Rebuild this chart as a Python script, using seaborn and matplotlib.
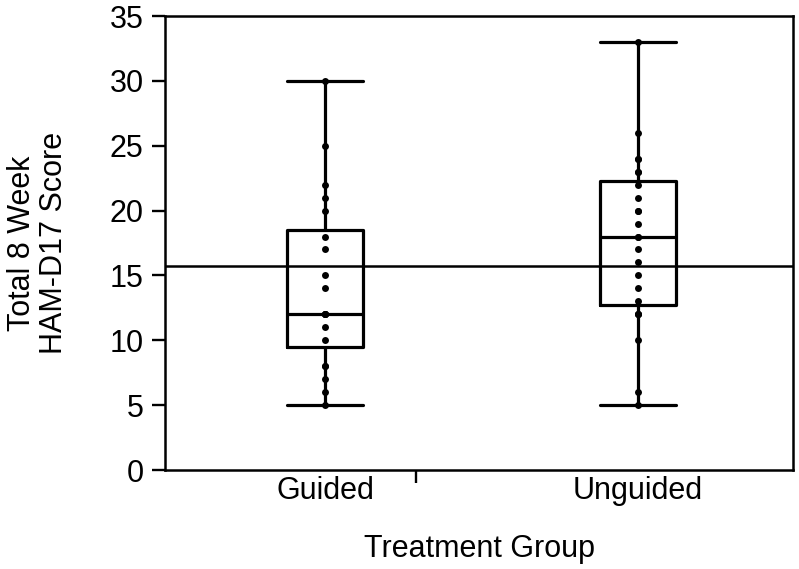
import matplotlib
matplotlib.use("Agg")
import matplotlib.pyplot as plt
import seaborn as sns
import pandas as pd
import numpy as np
from matplotlib.ticker import FixedLocator

# Data (duplicates chosen to reproduce quartiles)
guided = [5, 6, 7, 8, 8, 10, 11, 12, 12, 12, 12, 14, 15, 17, 18, 20, 21, 22, 25, 30]
unguided = [5, 6, 10, 12, 12, 12, 13, 14, 15, 16, 17, 18, 18, 19, 20, 20, 21, 22,
            23, 23, 24, 24, 26, 33]
groups = ["Guided", "Unguided"]
reference_line = 15.7
yticks = [0, 5, 10, 15, 20, 25, 30, 35]

df = pd.DataFrame({
    "group": ["Guided"] * len(guided) + ["Unguided"] * len(unguided),
    "score": guided + unguided,
})

sns.set_style("white")
plt.rcParams["font.family"] = ["Liberation Sans", "DejaVu Sans"]

fig = plt.figure(figsize=(7.99, 5.69), dpi=100)
ax = fig.add_axes([165 / 799, 1 - 470 / 569, 628 / 799, 454 / 569])

sns.boxplot(data=df, x="group", y="score", order=groups, whis=(0, 100),
            width=0.24, fill=False, color="black", linewidth=2.3,
            showfliers=False, ax=ax)
sns.stripplot(data=df, x="group", y="score", order=groups, jitter=False,
              color="black", size=5, ax=ax)

# make whisker caps as wide as the boxes
for ln in ax.lines:
    xd = np.asarray(ln.get_xdata(), dtype=float)
    yd = np.asarray(ln.get_ydata(), dtype=float)
    if len(xd) == 2 and yd[0] == yd[1] and xd[0] != xd[1]:
        c = xd.mean()
        vals = guided if abs(c) < 0.5 else unguided
        if yd[0] in (min(vals), max(vals)):
            ln.set_xdata([c - 0.12, c + 0.12])

ax.axhline(reference_line, color="black", linewidth=1.8, zorder=5)

ax.set_xlim(-0.511, 1.495)
ax.set_ylim(0, 35)
ax.set_yticks(yticks)
ax.set_yticklabels([str(t) for t in yticks])

for s in ax.spines.values():
    s.set_visible(True)
    s.set_color("black")
    s.set_linewidth(1.8)

ax.tick_params(axis="y", which="major", left=True, length=9.4, width=1.7,
               pad=6, labelsize=22, colors="black")
ax.tick_params(axis="x", which="major", bottom=True, length=0, pad=4,
               labelsize=22, colors="black")
ax.xaxis.set_minor_locator(FixedLocator([0.29]))
ax.tick_params(axis="x", which="minor", bottom=True, length=9.4, width=1.7,
               color="black")

ax.set_xlabel("Treatment Group", fontsize=22, color="black")
ax.set_ylabel("Total 8 Week\nHAM-D17 Score", fontsize=22, color="black",
              linespacing=1.1)
ax.xaxis.set_label_coords(0.5, -0.14)
ax.yaxis.set_label_coords(-0.153, 0.5)

fig.savefig("out.png", dpi=100)
